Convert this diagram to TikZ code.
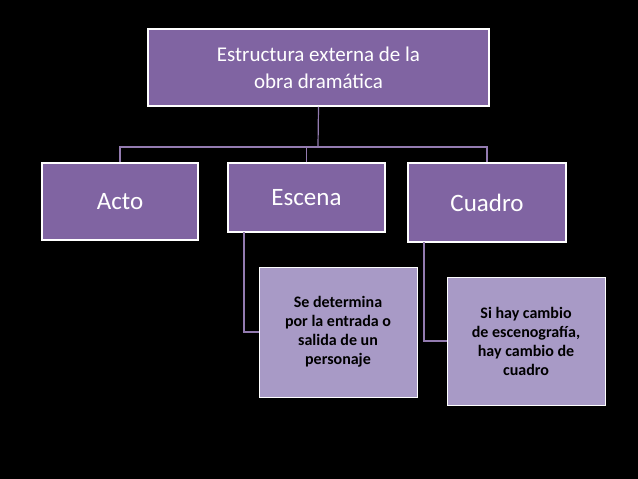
\documentclass[tikz,border=0pt]{standalone}
\usepackage{fontspec}
\setmainfont{Carlito}
\definecolor{mainpurple}{HTML}{8064A2}
\definecolor{lightpurple}{HTML}{A89AC6}
\begin{document}
\begin{tikzpicture}[x=1pt, y=-1pt,
                    mainbox/.style={rectangle, draw=white, line width=1.5pt, fill=mainpurple, text=white, inner sep=0pt, align=center},
                    subbox/.style={rectangle, draw=white, line width=1pt, fill=lightpurple, text=black, inner sep=0pt, align=center, font=\bfseries\fontsize{16}{19}\selectfont},
                    link/.style={draw=mainpurple!85!white, line width=1.2pt}]
  \fill[black] (0,0) rectangle (638,479);
  \useasboundingbox (0,0) rectangle (638,479);
  \node[mainbox, minimum width=341pt, minimum height=77pt, font=\fontsize{21}{27}\selectfont] (obra) at (318.5,67.5) {Estructura externa de la\\obra dramática};
  \node[mainbox, minimum width=156pt, minimum height=77pt, font=\fontsize{25}{30}\selectfont] (acto) at (120,201.5) {Acto};
  \node[mainbox, minimum width=157pt, minimum height=69pt, font=\fontsize{25}{30}\selectfont] (escena) at (306.5,197.5) {Escena};
  \node[mainbox, minimum width=158pt, minimum height=79pt, font=\fontsize{25}{30}\selectfont] (cuadro) at (487,202.5) {Cuadro};
  \node[subbox, minimum width=158pt, minimum height=130pt] (sescena) at (338,332) {Se determina\\por la entrada o\\salida de un\\personaje};
  \node[subbox, minimum width=158pt, minimum height=128pt] (scuadro) at (526,341) {Si hay cambio\\de escenografía,\\hay cambio de\\cuadro};
  \coordinate (bus) at (318,147);
  \draw[link] (obra.south) -- (bus);
  \draw[link] (acto.north) -- (acto.north |- bus) -- (cuadro.north |- bus) -- (cuadro.north);
  \draw[link] (escena.north) -- (escena.north |- bus);
  \draw[link] (244,232) |- (sescena.west);
  \draw[link] (424,242) |- (scuadro.west);
\end{tikzpicture}
\end{document}
